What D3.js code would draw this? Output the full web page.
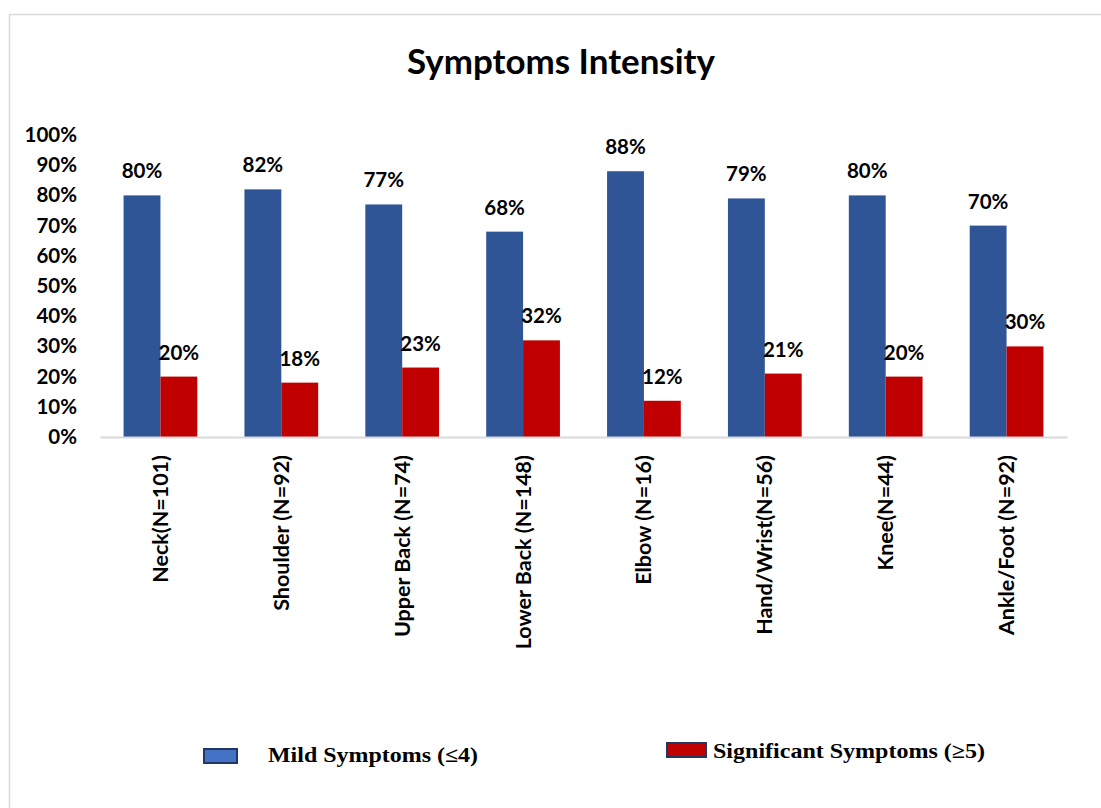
<!DOCTYPE html>
<html><head><meta charset="utf-8">
<script src="https://cdn.jsdelivr.net/npm/d3@7"></script>
<style>body{margin:0;background:#fff}svg{display:block}</style>
</head><body>
<svg id="c" width="1101" height="808"></svg>
<script>
const categories = ["Neck(N=101)","Shoulder (N=92)","Upper Back (N=74)","Lower Back (N=148)","Elbow (N=16)","Hand/Wrist(N=56)","Knee(N=44)","Ankle/Foot (N=92)"];
const mildValues = [80,82,77,68,88,79,80,70];
const significantValues = [20,18,23,32,12,21,20,30];
const yTicks = [0,10,20,30,40,50,60,70,80,90,100];
const seriesNames = ["Mild Symptoms (\u22644)","Significant Symptoms (\u22655)"];
const colors = ["#2F5597","#C00000"];

const svg = d3.select("#c");
const font = "Lato, 'Open Sans', sans-serif";

// outer frame
svg.append("path").attr("d","M9.5,808 L9.5,14.5 L1101,14.5").attr("fill","none").attr("stroke","#d9d9d9").attr("stroke-width",1.5);

svg.append("text").attr("x",561).attr("y",74).attr("text-anchor","middle")
  .attr("font-family",font).attr("font-weight","bold").attr("font-size",34)
  .attr("textLength",308).attr("lengthAdjust","spacingAndGlyphs").text("Symptoms Intensity");

const x0 = d3.scaleBand().domain(categories).range([100,1067]).paddingInner(0.39).paddingOuter(0.195);
const x1 = d3.scaleBand().domain([0,1]).range([0,x0.bandwidth()]);
const y = d3.scaleLinear().domain([0,100]).range([437,135]);

// y axis
const yAxis = svg.append("g").attr("transform","translate(100,0)")
  .call(d3.axisLeft(y).tickValues(yTicks).tickFormat(d=>d+"%").tickSize(0).tickPadding(23));
yAxis.select(".domain").remove();
yAxis.selectAll("text").attr("font-family",font).attr("font-weight","bold").attr("font-size",20.5).attr("fill","#000");

// bars
const data = categories.map((c,i)=>({c, v:[mildValues[i], significantValues[i]]}));
const g = svg.append("g");
data.forEach(d=>{
  d.v.forEach((v,k)=>{
    g.append("rect").attr("x",x0(d.c)+x1(k)).attr("y",y(v)).attr("width",x1.bandwidth()).attr("height",y(0)-y(v)).attr("fill",colors[k]);
    g.append("text").attr("x",x0(d.c)+x1(k)+x1.bandwidth()/2).attr("y",y(v)-17).attr("text-anchor","middle")
      .attr("font-family",font).attr("font-weight","bold").attr("font-size",20.5).text(v+"%");
  });
});

// x axis
const xAxis = svg.append("g").attr("transform","translate(0,437)")
  .call(d3.axisBottom(x0).tickSize(0).tickPadding(0));
xAxis.select(".domain").attr("stroke","#d9d9d9").attr("stroke-width",2);
xAxis.selectAll("text").attr("font-family",font).attr("font-weight","bold").attr("font-size",21.5).attr("fill","#000")
  .attr("text-anchor","end").attr("transform","translate(0,18) rotate(-90)").attr("dy","0.35em").attr("x",0).attr("y",0);

// legend
const leg = [{x:204,y:749,w:33,h:14,tx:268,ty:762,len:210},{x:667,y:743,w:39,h:14,tx:713,ty:758,len:272}];
leg.forEach((l,k)=>{
  svg.append("rect").attr("x",l.x).attr("y",l.y).attr("width",l.w).attr("height",l.h)
    .attr("fill",k===0?"#4472C4":"#C00000").attr("stroke","#1F3864").attr("stroke-width",2);
  svg.append("text").attr("x",l.tx).attr("y",l.ty).attr("font-family","'Liberation Serif','Times New Roman',serif")
    .attr("font-weight","bold").attr("font-size",21).attr("textLength",l.len).attr("lengthAdjust","spacingAndGlyphs").text(seriesNames[k]);
});
</script>
</body></html>
